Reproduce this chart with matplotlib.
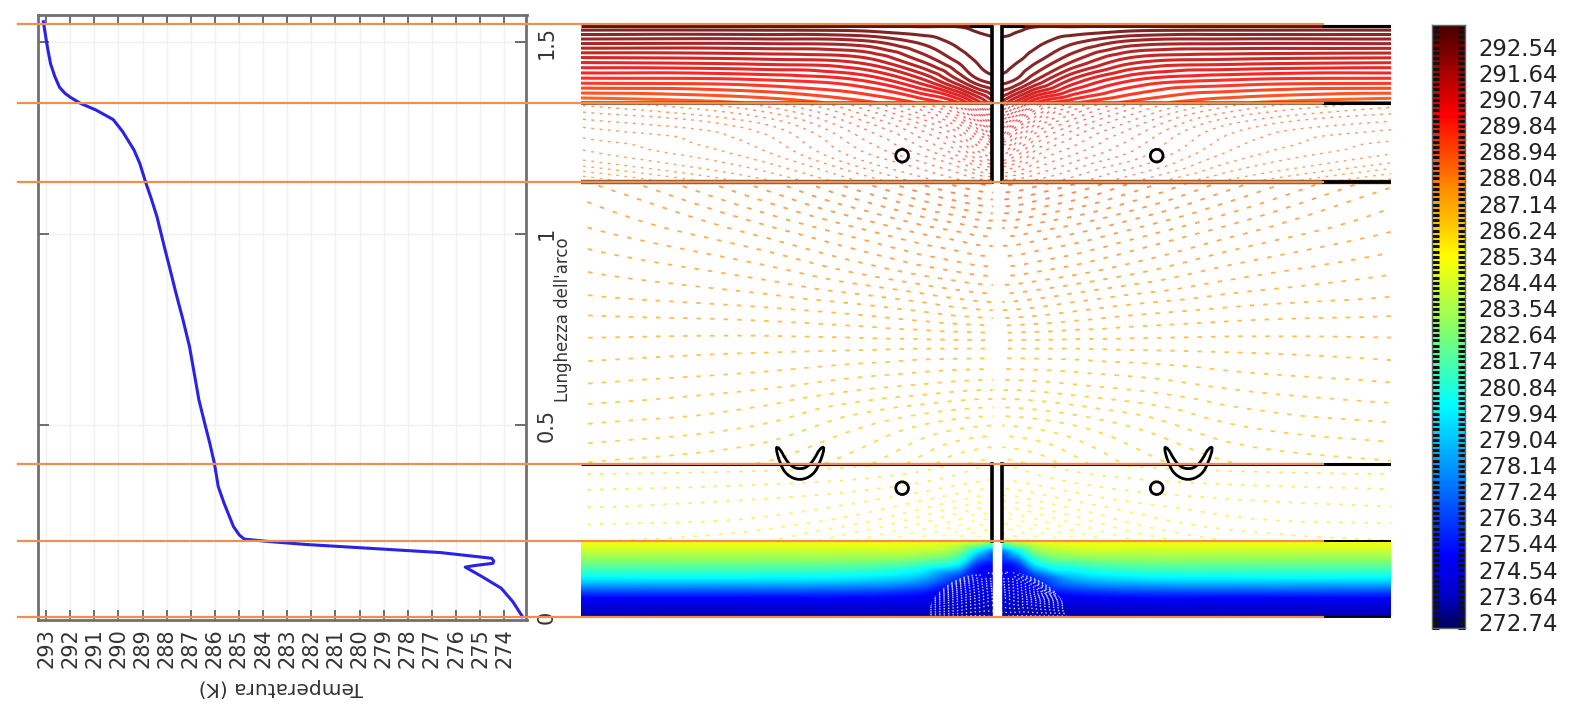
import numpy as np
import matplotlib
matplotlib.use("Agg")
import matplotlib.pyplot as plt
from matplotlib.colors import LinearSegmentedColormap
from matplotlib.patches import Rectangle, Circle, PathPatch, Ellipse
from matplotlib.path import Path
from matplotlib.ticker import FixedLocator
from matplotlib.transforms import blended_transform_factory
from matplotlib.tri import Triangulation, UniformTriRefiner, CubicTriInterpolator

# ---- profile along the arc ------------------------------------------------
arc_length = [1.553, 1.497, 1.479, 1.443, 1.411, 1.382, 1.366, 1.355, 1.340, 1.323, 1.298, 1.267, 1.218, 1.183,
              1.136, 1.092, 1.044, 0.962, 0.905, 0.844, 0.775, 0.705, 0.566, 0.505, 0.453, 0.401, 0.340, 0.297,
              0.236, 0.214, 0.203, 0.197, 0.189, 0.177, 0.168, 0.157, 0.153, 0.146, 0.140, 0.134, 0.130, 0.105,
              0.075, 0.040, 0.001]
temperature = [293.11, 292.97, 292.92, 292.81, 292.64, 292.44, 292.21, 291.97, 291.57, 290.94, 290.22, 289.83,
               289.35, 289.11, 288.88, 288.64, 288.40, 288.08, 287.85, 287.61, 287.32, 287.05, 286.66, 286.42,
               286.21, 286.02, 285.86, 285.62, 285.23, 284.99, 284.78, 283.80, 282.21, 279.04, 276.66, 275.08,
               274.52, 274.44, 274.47, 275.24, 275.62, 274.92, 274.13, 273.65, 273.25]
temp_ticks = list(range(293, 273, -1))
arc_ticks = [0, 0.5, 1, 1.5]
arc_tick_labels = ["0", "0.5", "1", "1.5"]
layer_bounds = [0.0, 0.198, 0.40, 1.136, 1.342, 1.548]

# ---- temperature field per material layer: rows = arc length, columns = distance from the slot ----
field_dist = [0.005, 0.05, 0.10, 0.20, 0.35, 0.60, 1.10]

layer1_arc = [0, .05, .1, .14, .17, .198]
layer1_temp = [
    [273.25, 273.2, 273.2, 273.2, 273.2, 273.2, 273.2],
    [273.8, 274.0, 274.2, 274.7, 275.0, 275.0, 275.0],
    [274.9, 275.0, 275.8, 278.5, 279.5, 279.8, 279.8],
    [275.2, 276.0, 280.0, 281.5, 282.2, 282.3, 282.3],
    [276.9, 279.5, 282.5, 283.8, 284.0, 284.0, 284.0],
    [283.0, 284.5, 285.0, 285.2, 285.2, 285.2, 285.2],
]
layer2_arc = [.198, .25, .3, .35, .40]
layer2_temp = [
    [284.9, 285.0, 285.1, 285.3, 285.5, 285.7, 285.8],
    [285.3, 285.32, 285.4, 285.55, 285.72, 285.85, 285.9],
    [285.6, 285.62, 285.68, 285.78, 285.88, 285.95, 286.0],
    [285.85, 285.87, 285.9, 285.97, 286.03, 286.07, 286.1],
    [285.98, 286.0, 286.05, 286.12, 286.17, 286.2, 286.22],
]
layer3_arc = [.40, .5, .6, .7, .8, .9, 1.0, 1.136]
layer3_temp = [
    [286.02, 286.04, 286.08, 286.2, 286.35, 286.5, 286.6],
    [286.33, 286.34, 286.36, 286.42, 286.52, 286.68, 286.78],
    [286.72, 286.72, 286.73, 286.76, 286.8, 286.88, 286.95],
    [287.05, 287.05, 287.05, 287.05, 287.06, 287.07, 287.1],
    [287.5, 287.49, 287.47, 287.42, 287.36, 287.3, 287.25],
    [287.9, 287.89, 287.86, 287.8, 287.7, 287.55, 287.4],
    [288.25, 288.24, 288.2, 288.13, 288.0, 287.8, 287.55],
    [288.9, 288.88, 288.82, 288.7, 288.5, 288.2, 287.75],
]
layer4_arc = [1.136, 1.2, 1.28, 1.342]
layer4_temp = [
    [288.9, 288.88, 288.82, 288.7, 288.5, 288.2, 287.75],
    [289.6, 289.45, 289.2, 289.0, 288.8, 288.45, 288.15],
    [290.6, 290.1, 289.7, 289.35, 289.05, 288.65, 288.4],
    [291.6, 291.0, 290.3, 289.8, 289.4, 289.0, 288.7],
]
layer5_arc = [1.342, 1.4, 1.45, 1.5, 1.541]
layer5_temp = [
    [291.6, 291.0, 290.3, 289.8, 289.4, 289.0, 288.7],
    [292.6, 292.4, 291.9, 291.0, 290.3, 290.0, 289.9],
    [292.85, 292.75, 292.5, 291.9, 291.2, 291.0, 290.9],
    [292.95, 292.9, 292.8, 292.5, 292.1, 292.0, 292.0],
    [293.1, 293.05, 293.0, 293.0, 292.95, 292.95, 292.95],
]

# ---- geometry inside the domain ----------------------------------------------
hole_x = [-0.2477, 0.415]
hole_arc = [1.2035, 0.336]
crescent_x = [-.578, -.566, -.549, -.514, -.479, -.462, -.448, -.462, -.475, -.492, -.514, -.536, -.553, -.566]
crescent_arc = [.445, .401, .370, .355, .370, .401, .445, .440, .414, .392, .385, .392, .414, .440]
crescent_shift = 1.011

# ---- colour scale --------------------------------------------------------------
cbar_ticks = [272.74, 273.64, 274.54, 275.44, 276.34, 277.24, 278.14, 279.04, 279.94, 280.84, 281.74,
              282.64, 283.54, 284.44, 285.34, 286.24, 287.14, 288.04, 288.94, 289.84, 290.74, 291.64, 292.54]
cmap_temps = [272.74, 273.6, 275.0, 280.2, 282.7, 285.3, 287.6, 290.2, 291.6, 293.1]
cmap_colors = ["#000070", "#0000c8", "#0000ff", "#00ffff", "#80ff70", "#ffff00", "#ff9000", "#ff0000",
               "#b00000", "#500000"]

W, H = 1575, 709
T_MIN, T_MAX = 272.74, 293.1
norm_pos = [(t - T_MIN) / (T_MAX - T_MIN) for t in cmap_temps]
cmap = LinearSegmentedColormap.from_list("heat", list(zip(norm_pos, cmap_colors)), N=512)
norm = plt.Normalize(T_MIN, T_MAX)
ORANGE = "#f0904f"
GREY = "#707070"
TXT = "#333333"


def box(left, top, right, bottom):
    return [left / W, 1 - bottom / H, (right - left) / W, (bottom - top) / H]


plt.rcParams["font.family"] = ["DejaVu Sans"]
fig = plt.figure(figsize=(W / 100, H / 100), dpi=100, facecolor="white")

# ---------------- left panel -----------------
ax = fig.add_axes(box(38.3, 15, 526.5, 620))
Y_LOW, Y_HIGH = -0.008, 1.5706
ax.set_xlim(293.32, 273.08)
ax.set_ylim(Y_LOW, Y_HIGH)
ax.grid(True, color="#f1f1f1", lw=1)
ax.set_axisbelow(True)
ax.plot(temperature, arc_length, color="#2a22e8", lw=2.2, zorder=3, solid_joinstyle="round")
ax.set_xticks(temp_ticks)
ax.set_xticklabels([str(t) for t in temp_ticks], rotation=90, fontsize=15, color=TXT)
ax.set_yticks(arc_ticks)
ax.set_yticklabels(arc_tick_labels, rotation=90, va="center", fontsize=15, color=TXT)
ax.tick_params(axis="x", direction="in", length=7, width=1.2, color="#555555", top=True, bottom=True, pad=6)
ax.tick_params(axis="y", direction="in", length=8, width=1.2, color="#555555", left=True, right=True,
               labelleft=False, labelright=True, pad=7)
for s in ax.spines.values():
    s.set_color(GREY)
    s.set_linewidth(2)
fig.text(281 / W, 1 - 688 / H, "Temperatura (K)", rotation=180, fontsize=14.5, color=TXT, ha="center", va="center")
fig.text(562.6 / W, 1 - 320 / H, "Lunghezza dell'arco", rotation=90, fontsize=12, color=TXT,
         ha="center", va="center")

# ---------------- field panel ----------------
fx = fig.add_axes(box(580.5, 15, 1391, 620))
fx.set_xlim(-1.085, 1.025)
fx.set_ylim(Y_LOW, Y_HIGH)
fx.axis("off")


def refined_layer(arc, temp):
    dist = np.array(field_dist)
    xs = np.concatenate([-dist[::-1], dist])
    half = np.array(temp)
    Z = np.hstack([half[:, ::-1], half])
    XX, YY = np.meshgrid(xs, np.array(arc))
    tri = Triangulation(XX.ravel(), YY.ravel())
    interp = CubicTriInterpolator(tri, Z.ravel(), kind="geom")
    return UniformTriRefiner(tri).refine_field(Z.ravel(), triinterpolator=interp, subdiv=3)


fine_levels = np.arange(272.74, 293.2, 0.09)

# bottom layer: dense filled bands
tri1, z1 = refined_layer(layer1_arc, layer1_temp)
fx.tricontourf(tri1, z1, levels=fine_levels, cmap=cmap, norm=norm, extend="both")
# white speckled contours in the cold wedge beside the slot
c4 = fx.tricontour(tri1, z1, levels=np.arange(273.25, 276.2, 0.15), colors="white", linewidths=1.0,
                   linestyles=[(0, (1, 2.2))], alpha=0.85)
c4.set_clip_path(Ellipse((0, 0), 0.36, 0.24, transform=fx.transData))

# middle layers: fine dashed isotherms
for arc, temp, lw, dash, alpha in [(layer2_arc, layer2_temp, 1.3, (2.0, 5.0), 0.6),
                                   (layer3_arc, layer3_temp, 1.3, (2.5, 5.0), 0.7),
                                   (layer4_arc, layer4_temp, 1.0, (2.0, 4.0), 0.65)]:
    tri_m, z_m = refined_layer(arc, temp)
    fx.tricontour(tri_m, z_m, levels=fine_levels, cmap=cmap, norm=norm, linewidths=lw,
                  linestyles=[(0, dash)], alpha=alpha)

# top layer: dense solid isotherms with white gaps
tri5, z5 = refined_layer(layer5_arc, layer5_temp)
fx.tricontour(tri5, z5, levels=np.arange(272.74, 293.2, 0.27), cmap=cmap, norm=norm, linewidths=2.2, alpha=0.85)

# slot
fx.add_patch(Rectangle((-0.0105, Y_LOW), 0.021, Y_HIGH - Y_LOW, color="white", zorder=4))
for lo, hi in [(layer_bounds[1], layer_bounds[2]), (layer_bounds[3], 1.541)]:
    for sx in (-1, 1):
        fx.plot([sx * 0.0125, sx * 0.0125], [lo, hi], color="black", lw=2.6, zorder=5)

# material boundaries; their shade depends on what lies below the orange guide lines
for b, lw, col in [(layer_bounds[0], 1.2, "#303030"), (layer_bounds[2], 2.2, "black"),
                   (layer_bounds[3], 3.2, "#8a5a38"), (layer_bounds[4], 2.6, "#7a4a20"),
                   (1.541, 2.2, "#661010")]:
    for a, c in ((-1.085, -0.0125), (0.0125, 1.025)):
        fx.plot([a, c], [b, b], color=col, lw=lw, zorder=5, solid_capstyle="butt")
for b, lw in [(layer_bounds[0], 1.2), (layer_bounds[1], 1.4), (layer_bounds[3], 2.6), (layer_bounds[4], 2.2), (1.541, 2.2)]:
    fx.plot([0.845, 1.025], [b, b], color="black", lw=lw, zorder=5, solid_capstyle="butt")
for a, c in ((-0.07, -0.0125), (0.0125, 0.07)):
    fx.plot([a, c], [1.541, 1.541], color="black", lw=2.2, zorder=5, solid_capstyle="butt")

# holes and crescents
for hx in hole_x:
    for ha in hole_arc:
        fx.add_patch(Circle((hx, ha), 0.0165, fc="none", ec="black", lw=2, zorder=6))


def rounded_outline(px, py):
    pts = np.column_stack([px, py])
    mids = (pts + np.roll(pts, -1, axis=0)) / 2
    verts, codes = [mids[-1]], [Path.MOVETO]
    for p, m in zip(pts, mids):
        verts += [p, m]
        codes += [Path.CURVE3, Path.CURVE3]
    return Path(verts, codes)


for shift in (0, crescent_shift):
    fx.add_patch(PathPatch(rounded_outline(np.array(crescent_x) + shift, crescent_arc), fc="none", ec="black",
                           lw=2, zorder=6))

# ---------------- horizontal guide lines -------------
trans = blended_transform_factory(fig.transFigure, ax.transData)
for b in layer_bounds:
    ax.plot([17.6 / W, 1323 / W], [b, b], transform=trans, color=ORANGE, lw=1.6, zorder=10, clip_on=False)
ax.set_zorder(fx.get_zorder() + 1)
ax.patch.set_alpha(0)

# ---------------- colour bar -------------------
cx = fig.add_axes(box(1431.7, 25, 1465, 628))
BAR_LOW, BAR_HIGH = 272.53, 293.29
grad = np.linspace(BAR_LOW, BAR_HIGH, 512).reshape(-1, 1)
cx.imshow(grad, origin="lower", aspect="auto", cmap=cmap, norm=norm, extent=[0, 1, BAR_LOW, BAR_HIGH])
cx.set_xticks([])
cx.yaxis.tick_right()
cx.set_yticks(cbar_ticks)
cx.set_yticklabels([f"{t:.2f}" for t in cbar_ticks], fontsize=16.4, color="#222222")
cx.tick_params(axis="y", which="major", length=0, pad=9.5)
cx.yaxis.set_minor_locator(FixedLocator(np.arange(BAR_LOW, BAR_HIGH, 0.18)))
cx.tick_params(axis="y", which="minor", direction="in", length=5, width=2.2, color="#101010", left=True, right=True)
for s in cx.spines.values():
    s.set_color("#666666")
    s.set_linewidth(1)

fig.savefig("out.png", dpi=100)
